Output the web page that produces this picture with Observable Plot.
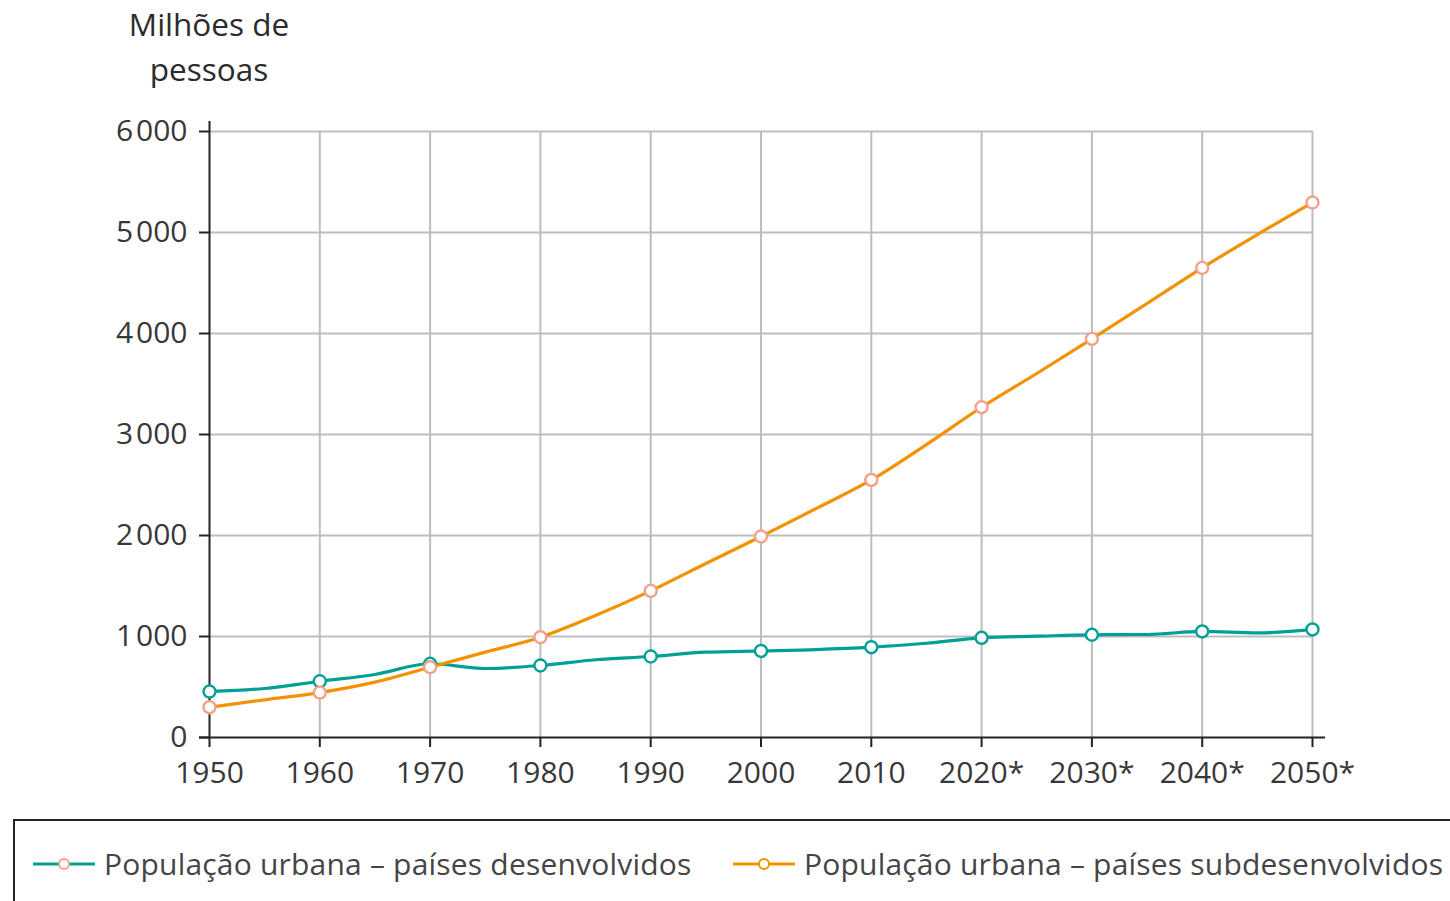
<!DOCTYPE html>
<html>
<head>
<meta charset="utf-8">
<script src="https://cdn.jsdelivr.net/npm/d3@7"></script>
<script src="https://cdn.jsdelivr.net/npm/@observablehq/plot@0.6"></script>
<style>
  html, body { margin: 0; padding: 0; background: #fff; width: 1450px; height: 901px; overflow: hidden; position: relative; font-family: "Open Sans", sans-serif; }
  #title { position: absolute; left: 109px; top: 1px; width: 200px; text-align: center; font-size: 31.5px; line-height: 45px; color: #2b2b2b; }
  #chart { position: absolute; left: 0; top: 0; }
  #legend { position: absolute; left: 13px; top: 819px; width: 1460px; height: 100px; border: 2px solid #222; box-sizing: border-box; }
  .item { position: absolute; top: 22px; display: flex; align-items: center; font-size: 30px; color: #454545; white-space: nowrap; letter-spacing: 0.2px; }
  .item svg { margin-right: 9px; }
</style>
</head>
<body>
<div id="title">Milhões de<br>pessoas</div>
<div id="chart"></div>
<div id="legend"></div>
<script>
// ---- data ----
const years = [1950, 1955, 1960, 1965, 1970, 1975, 1980, 1985, 1990, 1995, 2000, 2005, 2010, 2015, 2020, 2025, 2030, 2035, 2040, 2045, 2050];
const developed = [455, 485, 557, 624, 730, 683, 713, 770, 802, 845, 857, 870, 894, 933, 987, 1003, 1017, 1020, 1050, 1035, 1070];
const underdeveloped = [300, 373, 445, 548, 696, 845, 993, 1208, 1452, 1723, 1990, 2267, 2550, 2900, 3270, 3604, 3947, 4297, 4650, 4980, 5297];
const decadeTicks = [1950, 1960, 1970, 1980, 1990, 2000, 2010, 2020, 2030, 2040, 2050];
const xTickLabels = ["1950", "1960", "1970", "1980", "1990", "2000", "2010", "2020*", "2030*", "2040*", "2050*"];
const yTicks = [0, 1000, 2000, 3000, 4000, 5000, 6000];
const seriesNames = ["População urbana – países desenvolvidos", "População urbana – países subdesenvolvidos"];
const lineColors = ["#00a096", "#f39200"];
const markerColors = ["#00a096", "#f4a08a"];
const legendMarkerColors = ["#f4a08a", "#f39200"];

// ---- build table ----
const rows = [];
years.forEach((y, i) => {
  rows.push({year: y, value: developed[i], series: seriesNames[0]});
  rows.push({year: y, value: underdeveloped[i], series: seriesNames[1]});
});
const dev = rows.filter(d => d.series === seriesNames[0]);
const und = rows.filter(d => d.series === seriesNames[1]);
const isDecade = d => decadeTicks.includes(d.year);

const labelMap = new Map(decadeTicks.map((t, i) => [t, xTickLabels[i]]));
const fmtY = d => d === 0 ? "0" : d3.format(",")(d).replace(",", "\u200A");

const chart = Plot.plot({
  width: 1450,
  height: 810,
  marginTop: 131,
  marginBottom: 73,
  marginLeft: 209,
  marginRight: 138,
  style: {fontFamily: "'Open Sans', sans-serif", fontSize: "30px", color: "#383838", background: "transparent"},
  x: {domain: [1950, 2050], ticks: decadeTicks, tickFormat: d => labelMap.get(d), tickSize: 10, tickPadding: 14, label: null, line: false},
  y: {domain: [0, 6000], ticks: yTicks, tickFormat: fmtY, tickSize: 10, tickPadding: 12, label: null, line: false},
  marks: [
    Plot.ruleX(decadeTicks.slice(1), {stroke: "#bdbdbd", strokeWidth: 2}),
    Plot.ruleY(yTicks.slice(1), {stroke: "#bdbdbd", strokeWidth: 2}),
    Plot.line(dev, {x: "year", y: "value", stroke: lineColors[0], strokeWidth: 3.2, curve: "monotone-x"}),
    Plot.line(und, {x: "year", y: "value", stroke: lineColors[1], strokeWidth: 3.2, curve: "monotone-x"}),
    Plot.ruleX([1950], {stroke: "#222", strokeWidth: 2, insetTop: -10}),
    Plot.ruleY([0], {stroke: "#222", strokeWidth: 2, insetLeft: -10, insetRight: -13}),
    Plot.dot(dev.filter(isDecade), {x: "year", y: "value", r: 6, fill: "white", stroke: markerColors[0], strokeWidth: 2.4}),
    Plot.dot(und.filter(isDecade), {x: "year", y: "value", r: 6, fill: "white", stroke: markerColors[1], strokeWidth: 2.4})
  ]
});
d3.select(chart).selectAll("g[aria-label='x-axis tick'], g[aria-label='y-axis tick']").attr("stroke", "#222").attr("stroke-width", 2);
document.getElementById("chart").appendChild(chart);

// ---- legend ----
const lefts = [18, 718];
const legend = document.getElementById("legend");
seriesNames.forEach((name, i) => {
  const div = document.createElement("div");
  div.className = "item";
  div.style.left = lefts[i] + "px";
  div.innerHTML = `<svg width="62" height="20"><line x1="0" x2="62" y1="10" y2="10" stroke="${lineColors[i]}" stroke-width="3"/><circle cx="31" cy="10" r="5" fill="white" stroke="${legendMarkerColors[i]}" stroke-width="2"/></svg><span>${name}</span>`;
  legend.appendChild(div);
});
</script>
</body>
</html>
